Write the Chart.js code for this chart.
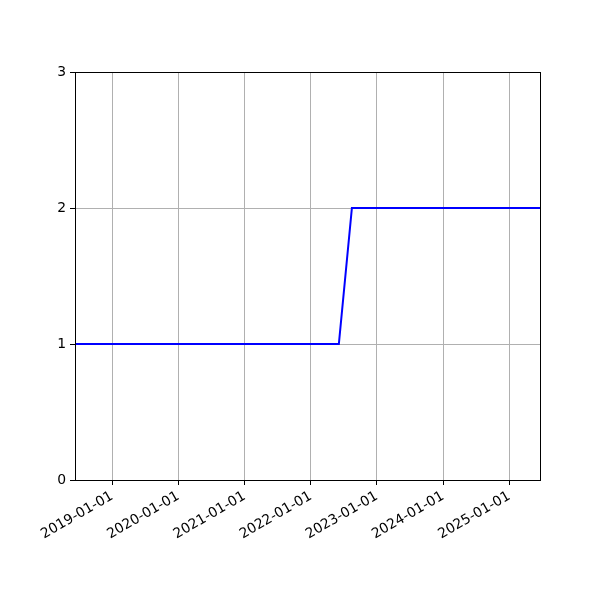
<!DOCTYPE html>
<html>
<head>
<meta charset="utf-8">
<script src="https://cdn.jsdelivr.net/npm/chart.js@4"></script>
<style>
  html, body { margin: 0; padding: 0; background: #fff; }
  #wrap { width: 600px; height: 600px; }
</style>
</head>
<body>
<div id="wrap"><canvas id="c" width="600" height="600"></canvas></div>
<script>
const dates = ['2018-06-10', '2022-06-05', '2022-08-16', '2025-06-19'];
const values = [1, 1, 2, 2];
const xTickLabels = ['2019-01-01', '2020-01-01', '2021-01-01', '2022-01-01', '2023-01-01', '2024-01-01', '2025-01-01'];
const yTicks = [0, 1, 2, 3];

const toMs = s => Date.parse(s + 'T00:00:00Z');
const points = dates.map((d, i) => ({ x: toMs(d), y: values[i] }));
const fmt = v => new Date(v).toISOString().slice(0, 10);

const frame = {
  id: 'frame',
  afterDraw(chart) {
    const { ctx, chartArea: a } = chart;
    ctx.save();
    ctx.strokeStyle = '#000';
    ctx.lineWidth = 1;
    ctx.strokeRect(Math.round(a.left) + 0.5, Math.round(a.top) + 0.5, Math.round(a.right - a.left), Math.round(a.bottom - a.top));
    ctx.restore();
  }
};

new Chart(document.getElementById('c'), {
  type: 'line',
  data: {
    datasets: [{
      data: points,
      borderColor: '#0000ff',
      borderWidth: 2,
      pointRadius: 0,
      tension: 0,
      fill: false
    }]
  },
  options: {
    responsive: false,
    animation: false,
    devicePixelRatio: 1,
    layout: { padding: { left: 0, right: 60, top: 72, bottom: 0 } },
    plugins: { legend: { display: false }, tooltip: { enabled: false } },
    scales: {
      x: {
        type: 'linear',
        min: toMs(dates[0]),
        max: toMs(dates[dates.length - 1]),
        afterBuildTicks(scale) { scale.ticks = xTickLabels.map(s => ({ value: toMs(s) })); },
        afterFit(scale) { scale.height = 120; },
        grid: { color: '#b0b0b0', lineWidth: 1, tickLength: 5, tickColor: '#000', drawTicks: true },
        border: { color: '#000', width: 1 },
        ticks: {
          autoSkip: false,
          minRotation: 30,
          maxRotation: 30,
          color: '#000',
          padding: 3,
          font: { family: 'DejaVu Sans', size: 13.9 },
          callback: v => fmt(v)
        }
      },
      y: {
        min: 0,
        max: 3,
        afterBuildTicks(scale) { scale.ticks = yTicks.map(v => ({ value: v })); },
        afterFit(scale) { scale.width = 75; },
        grid: { color: '#b0b0b0', lineWidth: 1, tickLength: 5, tickColor: '#000', drawTicks: true },
        border: { color: '#000', width: 1 },
        ticks: {
          color: '#000',
          padding: 4,
          font: { family: 'DejaVu Sans', size: 13.9 }
        }
      }
    }
  },
  plugins: [frame]
});
</script>
</body>
</html>
